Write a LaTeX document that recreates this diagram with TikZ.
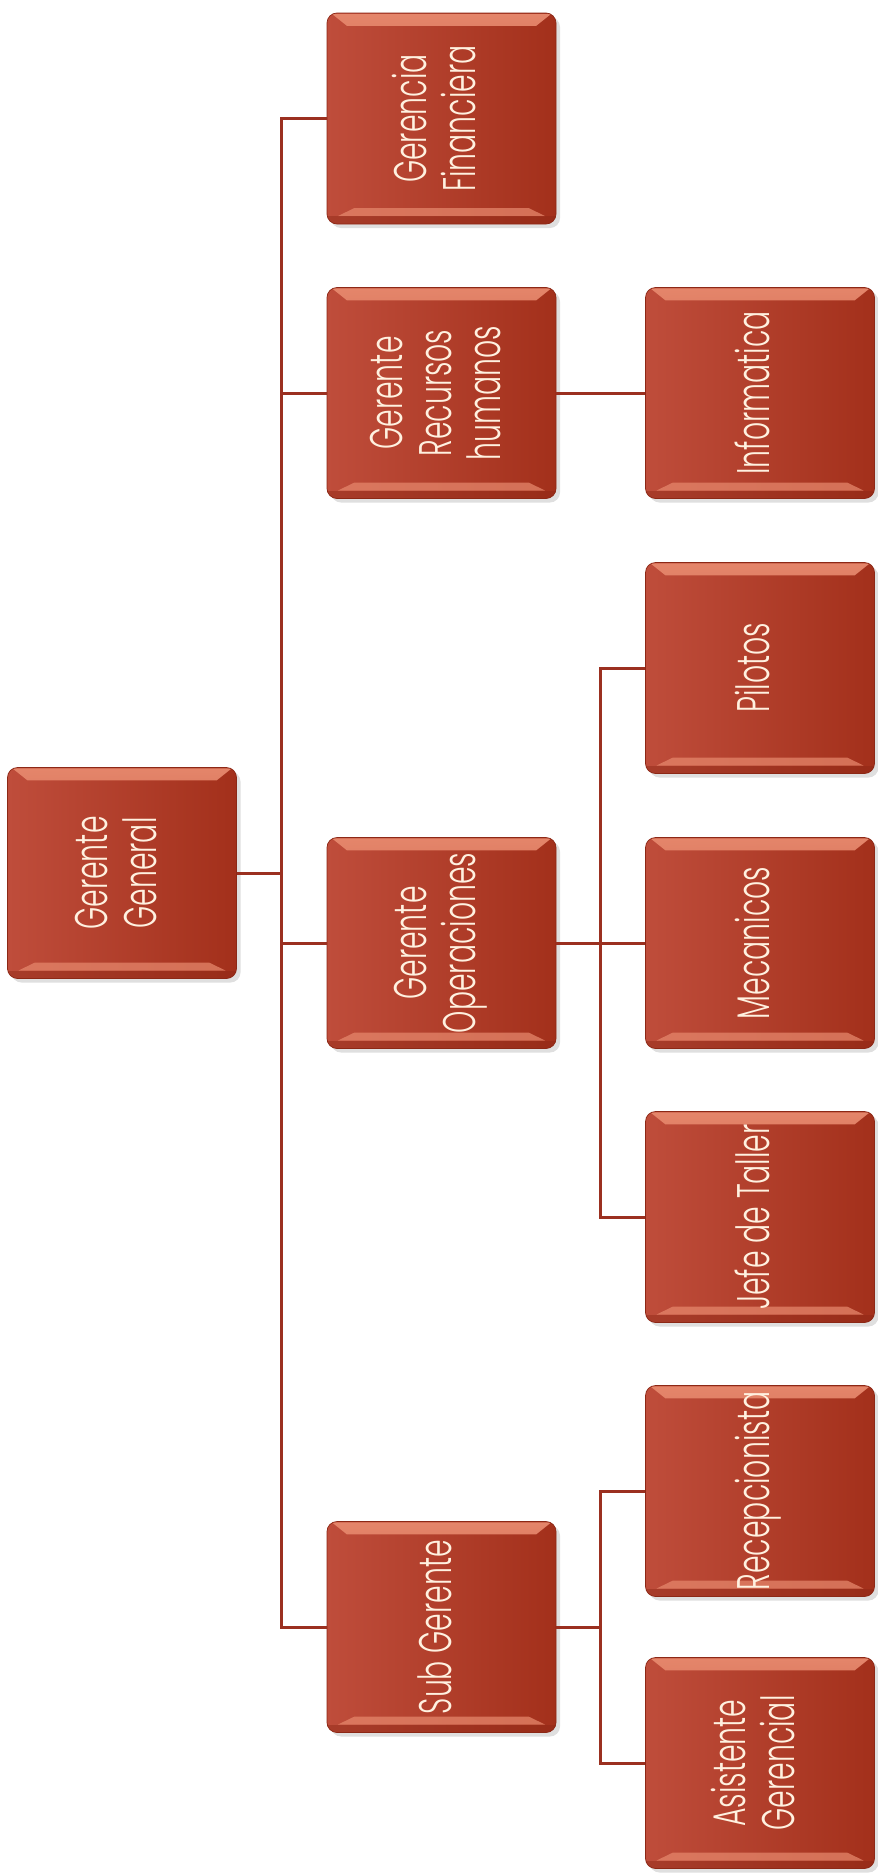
\documentclass[tikz,border=0pt]{standalone}
\usepackage{fontspec}
\usepackage{graphicx}
\newfontfamily\boxfont{Poppins}[UprightFont={* Light}, FakeStretch=0.62]
\usetikzlibrary{positioning}
\usetikzlibrary{calc}
\usetikzlibrary{shadows}
\usetikzlibrary{fadings}

\definecolor{lineRed}{HTML}{9B3020}
\definecolor{boxLeft}{HTML}{BF4D3B}
\definecolor{boxRight}{HTML}{A3301B}
\definecolor{boxEdge}{HTML}{8C2816}
\definecolor{boxHigh}{HTML}{E5866B}
\definecolor{boxText}{HTML}{FFF1E0}

\newcommand{\vlabel}[1]{\rotatebox{90}{\begin{tabular}{@{}c@{}}#1\end{tabular}}}

\tikzset{
  unit/.style={rounded corners=0.2cm, minimum width=4.58cm, minimum height=4.22cm, inner sep=0pt,
    left color=boxLeft, right color=boxRight, draw=boxEdge, line width=0.4pt,
    drop shadow={shadow xshift=0.08cm, shadow yshift=-0.08cm, opacity=0.25},
    font=\boxfont\fontsize{26}{28}\selectfont, text=boxText,
    path picture={
      %top bevel
      \fill[sharp corners, boxHigh, path fading=south]
        ([xshift=0.1cm,yshift=-0.02cm]path picture bounding box.north west) --
        ([xshift=-0.1cm,yshift=-0.02cm]path picture bounding box.north east) --
        ([xshift=-0.4cm,yshift=-0.26cm]path picture bounding box.north east) --
        ([xshift=0.4cm,yshift=-0.26cm]path picture bounding box.north west) -- cycle;
      %bottom bevel
      \fill[sharp corners, boxHigh, opacity=0.75]
        ([xshift=0.55cm,yshift=0.32cm]path picture bounding box.south west) --
        ([xshift=-0.55cm,yshift=0.32cm]path picture bounding box.south east) --
        ([xshift=-0.22cm,yshift=0.16cm]path picture bounding box.south east) --
        ([xshift=0.22cm,yshift=0.16cm]path picture bounding box.south west) -- cycle;
      %bottom rim
      \fill[sharp corners, boxEdge, opacity=0.45]
        (path picture bounding box.south west) rectangle ([yshift=0.16cm]path picture bounding box.south east);
    }},
  link/.style={draw=lineRed, line width=0.06cm},
}

\begin{document}
\begin{tikzpicture}
    \useasboundingbox (0,0) rectangle (17.54,-37.52);
    %Gerente General
    \node[unit] (gg) at (2.44,-17.46) {\vlabel{Gerente\\General}};
    %Gerencia Financiera
    \node[unit] (fin) at (8.83,-2.37) {\vlabel{Gerencia\\Financiera}};
    %Recursos humanos
    \node[unit] (rrhh) at (8.83,-7.86) {\vlabel{Gerente\\Recursos\\humanos}};
    %Operaciones
    \node[unit] (oper) at (8.83,-18.86) {\vlabel{Gerente\\Operaciones}};
    %Sub Gerente
    \node[unit] (sub) at (8.83,-32.54) {\vlabel{Sub Gerente}};
    %Informatica
    \node[unit] (info) at (15.2,-7.86) {\vlabel{Informatica}};
    %Pilotos
    \node[unit] (pil) at (15.2,-13.36) {\vlabel{Pilotos}};
    %Mecanicos
    \node[unit] (meca) at (15.2,-18.86) {\vlabel{Mecanicos}};
    %Jefe de Taller
    \node[unit] (jefe) at (15.2,-24.34) {\vlabel{Jefe de Taller}};
    %Recepcionista
    \node[unit] (rec) at (15.2,-29.82) {\vlabel{Recepcionista}};
    %Asistente
    \node[unit] (asis) at (15.2,-35.26) {\vlabel{Asistente\\Gerencial}};

    \coordinate (bus) at ($(gg.east)!0.5!(fin.west)$);
    \coordinate (opbus) at ($(oper.east)!0.5!(meca.west)$);

    %GG - bus
    \draw[link] (gg.east) -- (gg.east -| bus);
    %bus - second row
    \draw[link] (fin.west) -| (bus |- sub.west) -- (sub.west);
    \draw[link] (rrhh.west) -- (rrhh.west -| bus);
    \draw[link] (oper.west) -- (oper.west -| bus);
    %RRHH - Informatica
    \draw[link] (rrhh) -- (info);
    %Operaciones - third row
    \draw[link] (pil.west) -| (opbus |- jefe.west) -- (jefe.west);
    \draw[link] (oper) -- (meca);
    %Sub Gerente - third row
    \draw[link] (rec.west) -| (opbus |- asis.west) -- (asis.west);
    \draw[link] (sub.east) -- (sub.east -| opbus);
\end{tikzpicture}
\end{document}
